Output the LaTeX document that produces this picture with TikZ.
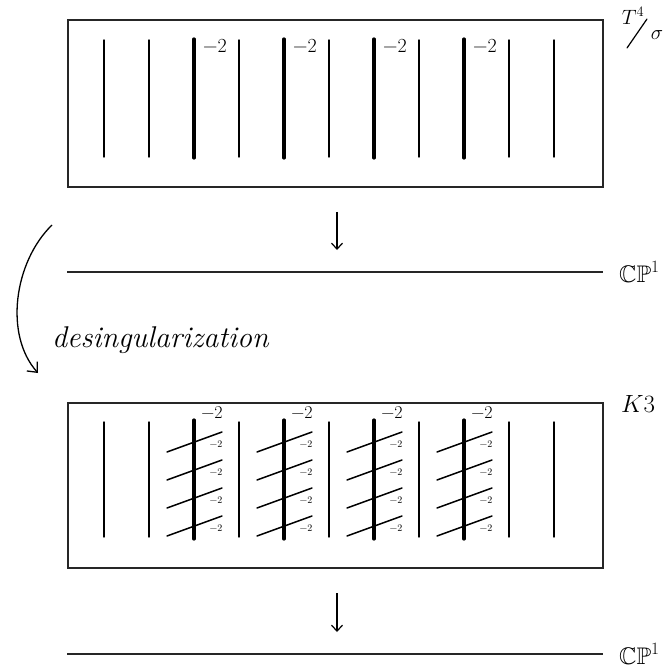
\documentclass[tikz,border=0pt]{standalone}
\usepackage{fontspec}
\usepackage{amssymb}
\usetikzlibrary{arrows.meta}

\tikzset{
  panel/.style={draw=black!85, line width=1.8pt},
  fibre/.style={line width=1.4pt, line cap=round},
  singfibre/.style={line width=3.2pt, line cap=round},
  excurve/.style={line width=1.5pt, line cap=round},
  base/.style={draw=black!85, line width=2pt},
  maparrow/.style={line width=1.2pt, -{Straight Barb[length=6pt,width=11pt,line width=1.2pt]}},
  bigself/.style={font=\fontsize{20}{20}\selectfont, inner sep=0pt},
  midself/.style={font=\fontsize{18}{18}\selectfont, inner sep=0pt},
  smallself/.style={font=\fontsize{10}{10}\selectfont, inner sep=0pt},
  spacelabel/.style={font=\fontsize{24}{24}\selectfont, inner sep=0pt, anchor=west},
}

\begin{document}
\begin{tikzpicture}[x=1pt, y=-1pt]
  \useasboundingbox (0,0) rectangle (670,666);

  % ---------- T^4/sigma over CP^1 ----------
  \node[panel, minimum width=535pt, minimum height=167pt, inner sep=0pt, anchor=north west]
    (torusbox) at (67,19) {};
  \foreach \k in {0,...,10} {
    \pgfmathtruncatemacro{\x}{104+45*\k}
    \pgfmathtruncatemacro{\isodd}{mod(\k,2)}
    \ifnum\isodd=0 \ifnum\k>0 \ifnum\k<10
      \draw[singfibre] (\x,39) coordinate (ts\k) -- (\x,158);
      \node[bigself] (tl\k) at (\x+21,46) {−2};
    \else
      \draw[fibre] (\x,40) -- (\x,157);
    \fi\else
      \draw[fibre] (\x,40) -- (\x,157);
    \fi\else
      \draw[fibre] (\x,40) -- (\x,157);
    \fi
  }
  % quotient label T^4 / sigma, written as a slanted fraction
  \node[font=\fontsize{21}{21}\selectfont, inner sep=0pt] (qnum) at (633,16) {$T^{4}$};
  \coordinate (qsl) at (627,48);
  \coordinate (qsh) at (647,19);
  \draw[line width=1.2pt, line cap=round] (qsl) -- (qsh);
  \node[font=\fontsize{22}{22}\selectfont, inner sep=0pt] (qden) at (657,35) {$\sigma$};

  \coordinate (a1s) at (337,212);
  \coordinate (a1e) at (337,250);
  \draw[maparrow] (a1s) -- (a1e);

  \coordinate (b1l) at (67,272);
  \coordinate (b1r) at (603,272);
  \draw[base] (b1l) -- (b1r);
  \node[spacelabel] (cp1) at (619,272) {$\mathbb{CP}^{1}$};

  % ---------- desingularization ----------
  \coordinate (ds) at (52,225);
  \coordinate (de) at (38,373);
  \draw[line width=1.3pt, -{Straight Barb[length=8pt,width=14pt,line width=1.3pt]}]
    (ds) .. controls (14,262) and (4,335) .. (de);
  \node[font=\fontsize{30}{30}\selectfont\itshape, inner sep=0pt, anchor=west]
    (desing) at (52,340) {desingularization};

  % ---------- K3 over CP^1 ----------
  \node[panel, minimum width=535pt, minimum height=165pt, inner sep=0pt, anchor=north west]
    (kbox) at (67,402) {};
  \foreach \k in {0,...,10} {
    \pgfmathtruncatemacro{\x}{104+45*\k}
    \pgfmathtruncatemacro{\isodd}{mod(\k,2)}
    \ifnum\isodd=0 \ifnum\k>0 \ifnum\k<10
      \draw[singfibre] (\x,420) -- (\x,539);
      \node[midself] (kt\k) at (\x+18,413) {−2};
      \foreach \j in {0,...,3} {
        \pgfmathsetmacro{\yl}{452+28*\j}
        \draw[excurve] (\x-27,\yl) -- (\x+28,\yl-20);
        \node[smallself] (ke\k\j) at (\x+22,\yl-8) {−2};
      }
    \else
      \draw[fibre] (\x,422) -- (\x,537);
    \fi\else
      \draw[fibre] (\x,422) -- (\x,537);
    \fi\else
      \draw[fibre] (\x,422) -- (\x,537);
    \fi
  }
  \node[spacelabel] (k3) at (621,404) {$K3$};

  \coordinate (a2s) at (337,593);
  \coordinate (a2e) at (337,632);
  \draw[maparrow] (a2s) -- (a2e);

  \coordinate (b2l) at (67,654);
  \coordinate (b2r) at (603,654);
  \draw[base] (b2l) -- (b2r);
  \node[spacelabel] (cp2) at (619,654) {$\mathbb{CP}^{1}$};
\end{tikzpicture}
\end{document}
